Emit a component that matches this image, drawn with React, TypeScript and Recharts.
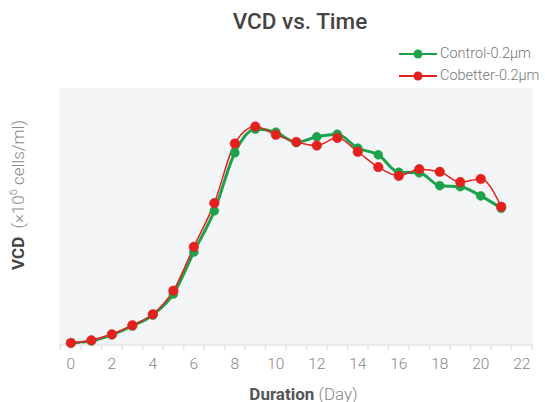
import { CartesianGrid, Line, LineChart, XAxis, YAxis } from 'recharts';

const days = [0, 1, 2, 3, 4, 5, 6, 7, 8, 9, 10, 11, 12, 13, 14, 15, 16, 17, 18, 19, 20, 21];
const control = [0.2, 0.4, 1.0, 1.85, 2.92, 4.96, 9.05, 13.05, 18.7, 21.0, 20.7, 19.7, 20.25, 20.5, 19.15, 18.5, 16.8, 16.75, 15.5, 15.4, 14.5, 13.3];
const cobetter = [0.2, 0.46, 1.04, 1.92, 2.99, 5.28, 9.55, 13.8, 19.6, 21.25, 20.45, 19.75, 19.4, 20.15, 18.8, 17.3, 16.45, 17.1, 16.85, 15.85, 16.15, 13.45];
const xTickLabels = [0, 2, 4, 6, 8, 10, 12, 14, 16, 18, 20, 22];
const tickMarks = [-0.5, 0.5, 1.5, 2.5, 3.5, 4.5, 5.5, 6.5, 7.5, 8.5, 9.5, 10.5, 11.5, 12.5, 13.5, 14.5, 15.5, 16.5, 17.5, 18.5, 19.5, 20.5, 21.5, 22.5];

const data = days.map((d, i) => ({ day: d, control: control[i], cobetter: cobetter[i] }));

const GREEN = '#1ca24b';
const RED = '#e5211d';
const AXIS_Y = 345;

const XTick = (props: any) => {
  const { x, payload } = props;
  const v = payload.value;
  if (tickMarks.includes(v)) {
    return <line x1={x} x2={x} y1={AXIS_Y - 2} y2={AXIS_Y + 5} stroke="#e4e4e4" strokeWidth={1.5} />;
  }
  if (!xTickLabels.includes(v)) return null;
  return (
    <text x={x} y={AXIS_Y + 24} textAnchor="middle" fill="#888" fontSize={15.5} fontWeight={300}>
      {v}
    </text>
  );
};

const XLabel = () => (
  <text x={303.5} y={400} textAnchor="middle" fontSize={17}>
    <tspan fill="#555" fontWeight={700}>Duration</tspan>
    <tspan fill="#888" fontWeight={300}> (Day)</tspan>
  </text>
);

const YLabel = () => (
  <text x={0} y={0} transform="translate(24,195) rotate(-90)" textAnchor="middle" fontSize={17}>
    <tspan fill="#444" fontWeight={700}>VCD</tspan>
    <tspan fill="#888" fontWeight={300} xmlSpace="preserve">  (×10</tspan>
    <tspan fill="#888" fontWeight={300} fontSize={11} dy={-7}>6</tspan>
    <tspan fill="#888" fontWeight={300} dy={7}> cells/ml)</tspan>
  </text>
);

const LegendIcon = ({ color }: { color: string }) => (
  <svg width={38} height={12} style={{ marginRight: 3 }}>
    <line x1={0} x2={38} y1={6} y2={6} stroke={color} strokeWidth={2} />
    <circle cx={19} cy={6} r={4.5} fill={color} />
  </svg>
);

function App() {
  const allTicks = [...tickMarks, ...xTickLabels].sort((a, b) => a - b);
  return (
    <div style={{ position: 'absolute', left: 0, top: 0, width: 545, height: 402, fontFamily: 'Roboto, sans-serif' }}>
      <div style={{ position: 'absolute', left: 0, width: 600, top: 8, textAlign: 'center', fontSize: 22.5, fontWeight: 500, color: '#444' }}>
        VCD vs. Time
      </div>
      <div style={{ position: 'absolute', left: 399, top: 43, fontSize: 14.5, color: '#777', fontWeight: 300, lineHeight: '22px', whiteSpace: 'nowrap' }}>
        <div style={{ display: 'flex', alignItems: 'center' }}>
          <LegendIcon color={GREEN} />
          Control-0.2μm
        </div>
        <div style={{ display: 'flex', alignItems: 'center' }}>
          <LegendIcon color={RED} />
          Cobetter-0.2μm
        </div>
      </div>
      <LineChart width={545} height={402} data={data} margin={{ top: 88, right: 12, bottom: 17, left: 59 }} style={{ fontFamily: 'Roboto, sans-serif' }}>
        <CartesianGrid fill="#f4f5f7" horizontal={false} vertical={false} />
        <XAxis
          dataKey="day"
          type="number"
          domain={[-0.58, 22.55]}
          ticks={allTicks}
          interval={0}
          height={40}
          tickLine={false}
          axisLine={{ stroke: '#e6e6e6', strokeWidth: 1.5 }}
          tick={<XTick />}
          label={<XLabel />}
        />
        <YAxis hide domain={[0, 25]} />
        <Line
          type="monotone"
          dataKey="control"
          stroke={GREEN}
          strokeWidth={3}
          dot={{ r: 4.5, fill: GREEN, stroke: GREEN, strokeWidth: 0.5 }}
          activeDot={false}
          isAnimationActive={false}
        />
        <Line
          type="monotone"
          dataKey="cobetter"
          stroke={RED}
          strokeWidth={1.5}
          dot={{ r: 4.8, fill: RED, stroke: RED, strokeWidth: 0.5 }}
          activeDot={false}
          isAnimationActive={false}
        />
      </LineChart>
      <svg width={40} height={402} style={{ position: 'absolute', left: 0, top: 0 }}>
        <YLabel />
      </svg>
    </div>
  );
}

export default App;
